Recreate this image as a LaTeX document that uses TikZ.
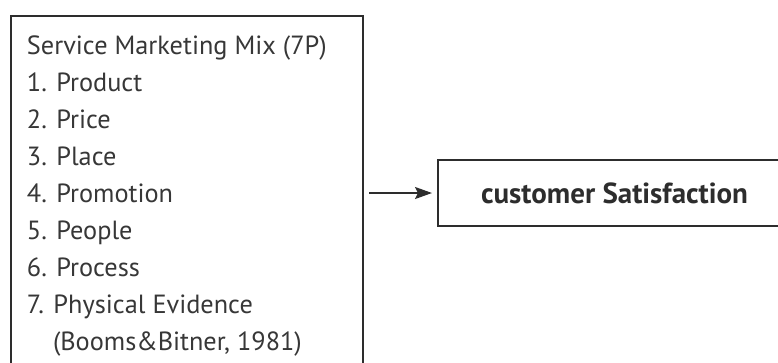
\documentclass[tikz,border=0pt]{standalone}
\usepackage{fontspec}
\setmainfont{PT Sans}
\usepackage{xcolor}
\usetikzlibrary{arrows.meta,positioning}
\definecolor{edgeCol}{RGB}{45,45,45}
\definecolor{txtCol}{RGB}{55,55,55}
\tikzset{
  listbox/.style={draw=edgeCol, line width=2pt, anchor=north west, text=txtCol,
                  font=\fontsize{26.3}{37}\selectfont, inner xsep=16pt, inner ysep=20pt},
  outbox/.style={draw=edgeCol, line width=2pt, align=center, anchor=north west,
                 text=edgeCol, font=\fontsize{29}{34}\selectfont\bfseries,
                 minimum width=353pt, minimum height=66pt, inner sep=0pt},
  flow/.style={-{Stealth[length=17pt, width=12pt, inset=3pt]}, edgeCol, line width=2pt,
               shorten <=5pt, shorten >=5pt},
}
\begin{document}
\begin{tikzpicture}[x=1pt, y=-1pt]
  \useasboundingbox (0,0) rectangle (778,362);
  \clip (0,0) rectangle (778,362);
  % 7P list
  \node[listbox] (mix) at (10,14.5) {\begin{minipage}[t][380pt][t]{320pt}
    Service Marketing Mix (7P)\\
    1. Product\\
    2. Price\\
    3. Place\\
    4. Promotion\\
    5. People\\
    6. Process\\
    7. Physical Evidence\\
    \hspace*{26pt}(Booms\&Bitner, 1981)
  \end{minipage}};
  % outcome
  \node[outbox] (sat) at (437,159) {customer Satisfaction};
  \draw[flow] (mix.east |- sat.west) -- (sat.west);
\end{tikzpicture}
\end{document}
